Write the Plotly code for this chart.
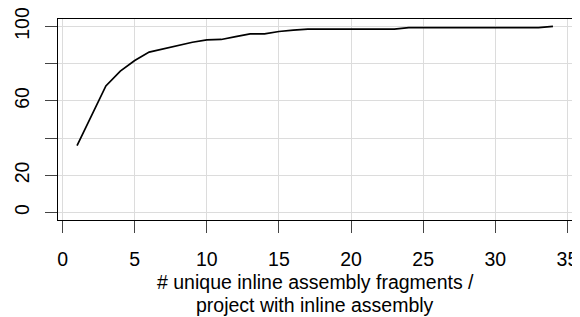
import plotly.graph_objects as go

# data
fragments = list(range(1, 35))
pct_projects = [36, 52, 68, 76, 81.7, 86.2, 88, 89.8, 91.5, 92.8,
                93, 94.5, 96, 96, 97.3, 98, 98.6, 98.6, 98.6, 98.6,
                98.6, 98.6, 98.6, 99.4, 99.4, 99.4, 99.4, 99.4, 99.4, 99.4,
                99.4, 99.4, 99.4, 100]
x_ticks = [0, 5, 10, 15, 20, 25, 30, 35]
y_ticks = [0, 20, 40, 60, 80, 100]
y_ticktext = ["0", "20", "", "60", "", "100"]
title_lines = ["# unique inline assembly fragments /", "project with inline assembly"]

FONT = "Liberation Sans, Arial, Helvetica, sans-serif"
FS = 19.5

# the page body has an 8px default margin; size the figure to fit the window
W, H = 572, 309
L, R, T, B = 50, 8, 11, 97
plot_h = H - T - B

fig = go.Figure()
fig.add_trace(go.Scatter(x=fragments, y=pct_projects, mode="lines",
                         line=dict(color="black", width=1.7), showlegend=False))

fig.update_layout(
    width=W, height=H,
    margin=dict(l=L, r=R, t=T, b=B),
    paper_bgcolor="white", plot_bgcolor="white",
    font=dict(family=FONT, size=FS, color="black"),
    xaxis=dict(range=[-0.32, 35.32], tickvals=x_ticks, showgrid=True,
               automargin=False, ticklabeloverflow="allow",
               gridcolor="#dcdcdc", gridwidth=1.4, zeroline=False,
               showline=True, linecolor="black", linewidth=1.2, mirror=True,
               ticks="outside", ticklen=12, tickcolor="#444", tickwidth=1.2,
               ticklabelstandoff=9, tickfont=dict(size=FS)),
    yaxis=dict(range=[-4, 104], tickvals=y_ticks, ticktext=y_ticktext,
               automargin=False, ticklabeloverflow="allow",
               showgrid=True, gridcolor="#dcdcdc", gridwidth=1.4, zeroline=False,
               showline=True, linecolor="black", linewidth=1.2, mirror=True,
               ticks="outside", ticklen=12, tickcolor="#444", tickwidth=1.2,
               tickangle=-90, ticklabelstandoff=8, tickfont=dict(size=FS)),
)

for txt, ypx in zip(title_lines, [274, 297]):
    fig.add_annotation(text=txt, xref="paper", yref="paper", x=0.5,
                       y=-(ypx - (T + plot_h)) / plot_h, xanchor="center",
                       yanchor="middle", showarrow=False,
                       font=dict(family=FONT, size=FS, color="black"))

fig.write_html("out.html")
